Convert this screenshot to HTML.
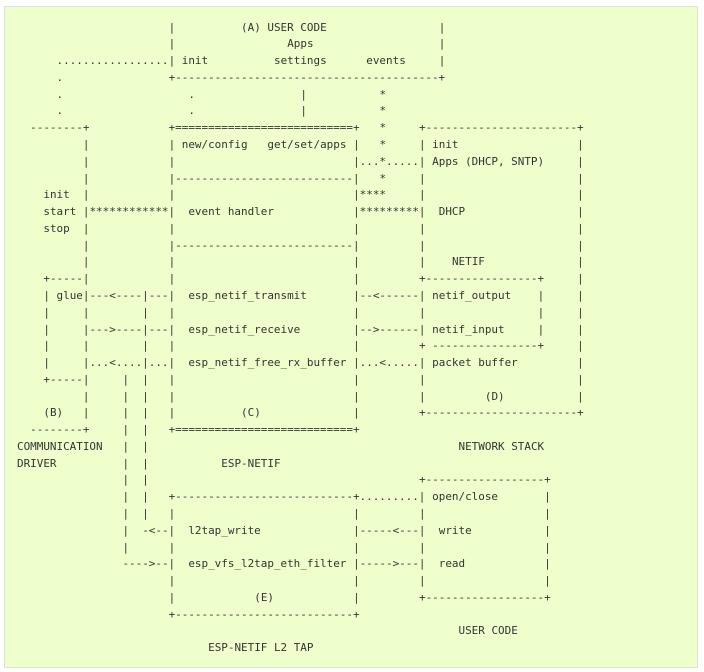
<!DOCTYPE html>
<html><head><meta charset="utf-8"><style>
html,body{margin:0;padding:0;background:#fff;width:704px;height:672px;overflow:hidden}
#bx{position:absolute;left:4px;top:6px;width:694px;height:662px;background:#eeffcc;border:1px solid #dde3d6;box-sizing:border-box}
.r{position:absolute;left:0;height:17px;width:704px}
.r span{position:absolute;white-space:pre;font-family:"DejaVu Sans Mono","Liberation Mono",monospace;font-size:10.95px;line-height:17px;color:#333;left:calc(17px + var(--c)*6.59px);top:0}
</style></head><body>
<div id="bx"></div>
<div class="r" style="top:18.5px"><span style="--c:23">|</span><span style="--c:34">(A) USER CODE</span><span style="--c:64">|</span></div>
<div class="r" style="top:35.3px"><span style="--c:23">|</span><span style="--c:41">Apps</span><span style="--c:64">|</span></div>
<div class="r" style="top:52.1px"><span style="--c:6">.................</span><span style="--c:23">|</span><span style="--c:25">init</span><span style="--c:39">settings</span><span style="--c:53">events</span><span style="--c:64">|</span></div>
<div class="r" style="top:68.8px"><span style="--c:6">.</span><span style="--c:23">+----------------------------------------+</span></div>
<div class="r" style="top:85.6px"><span style="--c:6">.</span><span style="--c:26">.</span><span style="--c:43">|</span><span style="--c:55">*</span></div>
<div class="r" style="top:102.4px"><span style="--c:6">.</span><span style="--c:26">.</span><span style="--c:43">|</span><span style="--c:55">*</span></div>
<div class="r" style="top:119.2px"><span style="--c:2">--------+</span><span style="--c:23">+===========================+</span><span style="--c:55">*</span><span style="--c:61">+-----------------------+</span></div>
<div class="r" style="top:135.9px"><span style="--c:10">|</span><span style="--c:23">|</span><span style="--c:25">new/config</span><span style="--c:38">get/set/apps</span><span style="--c:51">|</span><span style="--c:55">*</span><span style="--c:61">|</span><span style="--c:63">init</span><span style="--c:85">|</span></div>
<div class="r" style="top:152.7px"><span style="--c:10">|</span><span style="--c:23">|</span><span style="--c:51">|...*.....|</span><span style="--c:63">Apps (DHCP, SNTP)</span><span style="--c:85">|</span></div>
<div class="r" style="top:169.5px"><span style="--c:10">|</span><span style="--c:23">|---------------------------|</span><span style="--c:55">*</span><span style="--c:61">|</span><span style="--c:85">|</span></div>
<div class="r" style="top:186.3px"><span style="--c:4">init</span><span style="--c:10">|</span><span style="--c:23">|</span><span style="--c:51">|****</span><span style="--c:61">|</span><span style="--c:85">|</span></div>
<div class="r" style="top:203px"><span style="--c:4">start</span><span style="--c:10">|************|</span><span style="--c:26">event handler</span><span style="--c:51">|*********|</span><span style="--c:64">DHCP</span><span style="--c:85">|</span></div>
<div class="r" style="top:219.8px"><span style="--c:4">stop</span><span style="--c:10">|</span><span style="--c:23">|</span><span style="--c:51">|</span><span style="--c:61">|</span><span style="--c:85">|</span></div>
<div class="r" style="top:236.6px"><span style="--c:10">|</span><span style="--c:23">|---------------------------|</span><span style="--c:61">|</span><span style="--c:85">|</span></div>
<div class="r" style="top:253.4px"><span style="--c:10">|</span><span style="--c:23">|</span><span style="--c:51">|</span><span style="--c:61">|</span><span style="--c:66">NETIF</span><span style="--c:85">|</span></div>
<div class="r" style="top:270.1px"><span style="--c:4">+-----|</span><span style="--c:23">|</span><span style="--c:51">|</span><span style="--c:61">+-----------------+</span><span style="--c:85">|</span></div>
<div class="r" style="top:286.9px"><span style="--c:4">| glue|---&lt;----|---|</span><span style="--c:26">esp_netif_transmit</span><span style="--c:51">|--&lt;------|</span><span style="--c:63">netif_output</span><span style="--c:79">|</span><span style="--c:85">|</span></div>
<div class="r" style="top:303.7px"><span style="--c:4">|</span><span style="--c:10">|</span><span style="--c:19">|</span><span style="--c:23">|</span><span style="--c:51">|</span><span style="--c:61">|</span><span style="--c:79">|</span><span style="--c:85">|</span></div>
<div class="r" style="top:320.5px"><span style="--c:4">|</span><span style="--c:10">|---&gt;----|---|</span><span style="--c:26">esp_netif_receive</span><span style="--c:51">|--&gt;------|</span><span style="--c:63">netif_input</span><span style="--c:79">|</span><span style="--c:85">|</span></div>
<div class="r" style="top:337.2px"><span style="--c:4">|</span><span style="--c:10">|</span><span style="--c:19">|</span><span style="--c:23">|</span><span style="--c:51">|</span><span style="--c:61">+ ----------------+</span><span style="--c:85">|</span></div>
<div class="r" style="top:354px"><span style="--c:4">|</span><span style="--c:10">|...&lt;....|...|</span><span style="--c:26">esp_netif_free_rx_buffer</span><span style="--c:51">|...&lt;.....|</span><span style="--c:63">packet buffer</span><span style="--c:85">|</span></div>
<div class="r" style="top:370.8px"><span style="--c:4">+-----|</span><span style="--c:16">|</span><span style="--c:19">|</span><span style="--c:23">|</span><span style="--c:51">|</span><span style="--c:61">|</span><span style="--c:85">|</span></div>
<div class="r" style="top:387.6px"><span style="--c:10">|</span><span style="--c:16">|</span><span style="--c:19">|</span><span style="--c:23">|</span><span style="--c:51">|</span><span style="--c:61">|</span><span style="--c:71">(D)</span><span style="--c:85">|</span></div>
<div class="r" style="top:404.3px"><span style="--c:4">(B)</span><span style="--c:10">|</span><span style="--c:16">|</span><span style="--c:19">|</span><span style="--c:23">|</span><span style="--c:34">(C)</span><span style="--c:51">|</span><span style="--c:61">+-----------------------+</span></div>
<div class="r" style="top:421.1px"><span style="--c:2">--------+</span><span style="--c:16">|</span><span style="--c:19">|</span><span style="--c:23">+===========================+</span></div>
<div class="r" style="top:437.9px"><span style="--c:0">COMMUNICATION</span><span style="--c:16">|</span><span style="--c:19">|</span><span style="--c:67">NETWORK STACK</span></div>
<div class="r" style="top:454.7px"><span style="--c:0">DRIVER</span><span style="--c:16">|</span><span style="--c:19">|</span><span style="--c:31">ESP-NETIF</span></div>
<div class="r" style="top:471.4px"><span style="--c:16">|</span><span style="--c:19">|</span><span style="--c:61">+------------------+</span></div>
<div class="r" style="top:488.2px"><span style="--c:16">|</span><span style="--c:19">|</span><span style="--c:23">+---------------------------+.........|</span><span style="--c:63">open/close</span><span style="--c:80">|</span></div>
<div class="r" style="top:505px"><span style="--c:16">|</span><span style="--c:19">|</span><span style="--c:23">|</span><span style="--c:51">|</span><span style="--c:61">|</span><span style="--c:80">|</span></div>
<div class="r" style="top:521.8px"><span style="--c:16">|</span><span style="--c:19">-&lt;--|</span><span style="--c:26">l2tap_write</span><span style="--c:51">|-----&lt;---|</span><span style="--c:64">write</span><span style="--c:80">|</span></div>
<div class="r" style="top:538.5px"><span style="--c:16">|</span><span style="--c:23">|</span><span style="--c:51">|</span><span style="--c:61">|</span><span style="--c:80">|</span></div>
<div class="r" style="top:555.3px"><span style="--c:16">----&gt;--|</span><span style="--c:26">esp_vfs_l2tap_eth_filter</span><span style="--c:51">|-----&gt;---|</span><span style="--c:64">read</span><span style="--c:80">|</span></div>
<div class="r" style="top:572.1px"><span style="--c:23">|</span><span style="--c:51">|</span><span style="--c:61">|</span><span style="--c:80">|</span></div>
<div class="r" style="top:588.9px"><span style="--c:23">|</span><span style="--c:36">(E)</span><span style="--c:51">|</span><span style="--c:61">+------------------+</span></div>
<div class="r" style="top:605.6px"><span style="--c:23">+---------------------------+</span></div>
<div class="r" style="top:622.4px"><span style="--c:67">USER CODE</span></div>
<div class="r" style="top:639.2px"><span style="--c:29">ESP-NETIF L2 TAP</span></div>
</body></html>
